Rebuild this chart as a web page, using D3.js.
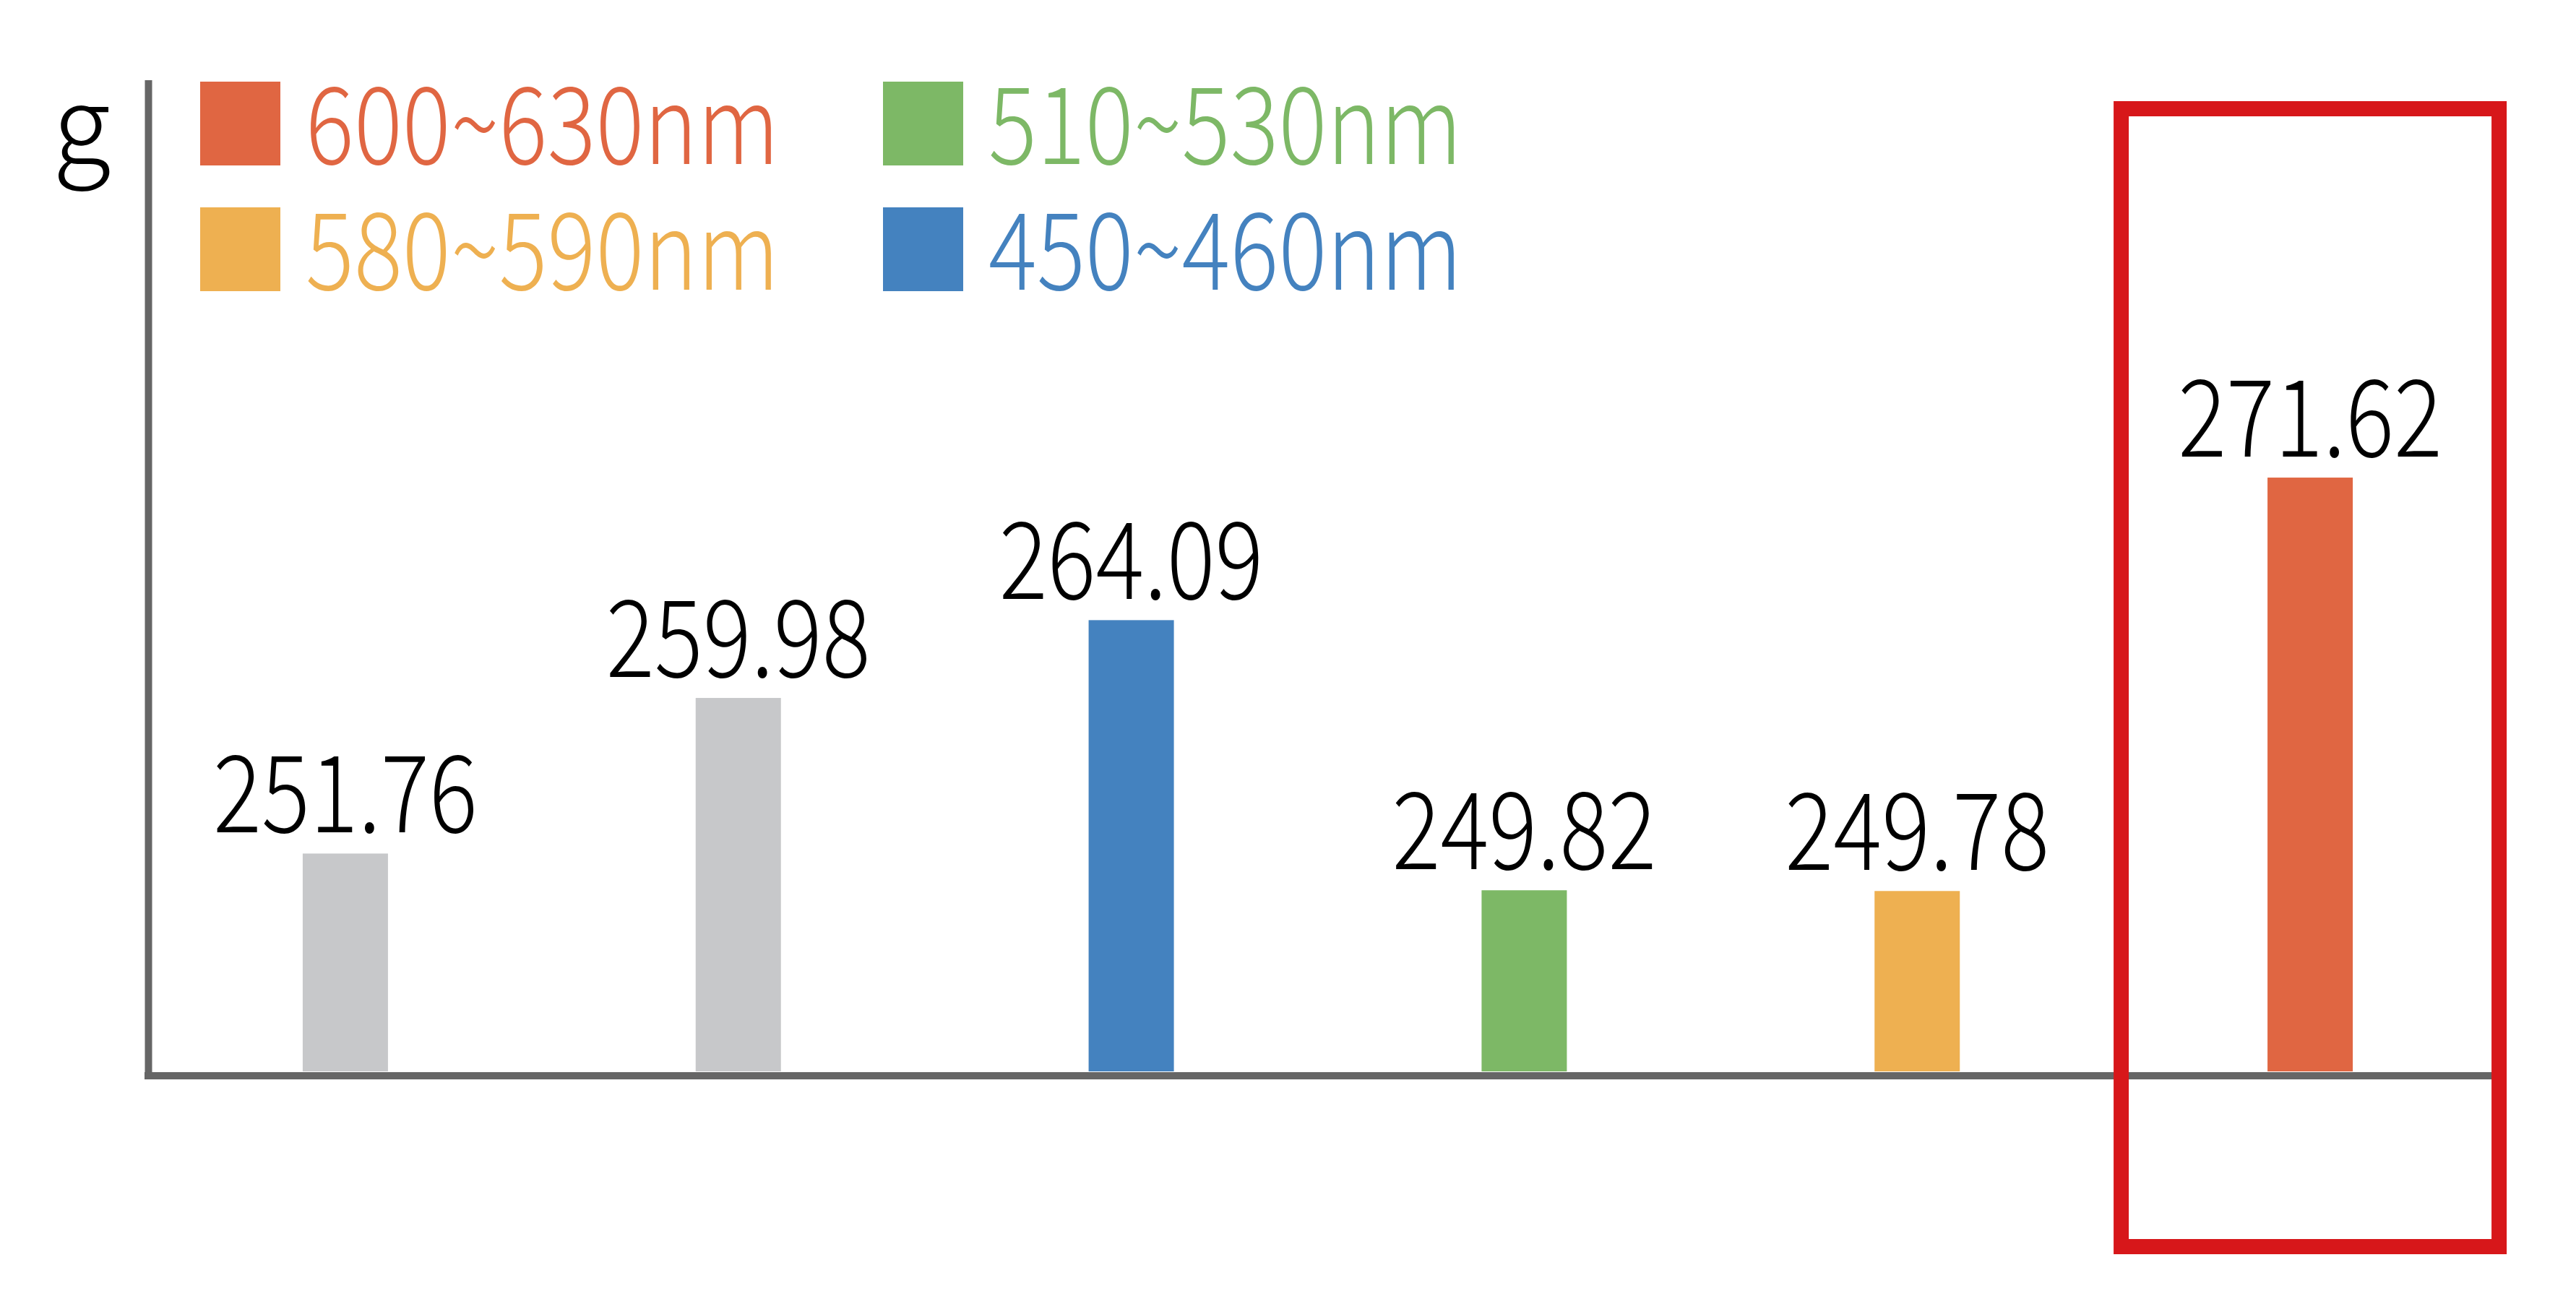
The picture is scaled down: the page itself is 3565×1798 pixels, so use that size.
<!DOCTYPE html>
<html>
<head>
<meta charset="utf-8">
<script src="https://cdn.jsdelivr.net/npm/d3@7"></script>
<style>
  body { margin: 0; background: #fff; }
  svg { display: block; }
  text { font-family: "Noto Sans CJK SC", "Noto Sans", sans-serif; font-weight: 300; }
</style>
</head>
<body>
<svg id="chart" width="3565" height="1798"></svg>
<script>
const categories = ["s1", "s2", "s3", "s4", "s5", "s6"];
const values = [251.76, 259.98, 264.09, 249.82, 249.78, 271.62];
const barColors = ["#c7c8ca", "#c7c8ca", "#4482bf", "#7db866", "#eeb051", "#e06642"];

const legendLabels = ["600~630nm", "510~530nm", "580~590nm", "450~460nm"];
const legendColors = ["#e06642", "#7db866", "#eeb051", "#4482bf"];

const unitLabel = "g";
const highlightIndex = 5;

const svg = d3.select("#chart");
const baseY = 1483;
const axisColor = "#666666";
const squeeze = 0.845; // the numbers in the picture are set narrower than the font

const x = d3
  .scaleBand()
  .domain(categories)
  .range([206, 3469])
  .paddingInner(0.783)
  .paddingOuter(0.783 / 2);

const y = d3.scaleLinear().domain([240.25, 280]).range([baseY, 441.5]);

// y axis line
svg
  .append("line")
  .attr("x1", 205.5)
  .attr("x2", 205.5)
  .attr("y1", 111)
  .attr("y2", 1494)
  .attr("stroke", axisColor)
  .attr("stroke-width", 10);

// x axis (domain only)
const xAxis = svg
  .append("g")
  .attr("transform", "translate(0,1489)")
  .call(d3.axisBottom(x).tickSize(0).tickSizeOuter(0).tickFormat(""));
xAxis.selectAll(".tick").remove();
xAxis
  .select(".domain")
  .attr("d", "M200,0H3450")
  .attr("stroke", axisColor)
  .attr("stroke-width", 10);

// bars
svg
  .selectAll("rect.bar")
  .data(values)
  .join("rect")
  .attr("class", "bar")
  .attr("x", (d, i) => x(categories[i]))
  .attr("width", x.bandwidth())
  .attr("y", (d) => y(d))
  .attr("height", (d) => baseY - y(d))
  .attr("fill", (d, i) => barColors[i]);

// value labels
svg
  .selectAll("text.val")
  .data(values)
  .join("text")
  .attr("class", "val")
  .attr(
    "transform",
    (d, i) =>
      `translate(${x(categories[i]) + x.bandwidth() / 2},${y(d) - 29}) scale(${squeeze},1)`,
  )
  .attr("text-anchor", "middle")
  .attr("font-size", 148)
  .attr("fill", "#000")
  .text((d) => d.toFixed(2));

// unit label
svg
  .append("text")
  .attr("x", 113)
  .attr("y", 227)
  .attr("text-anchor", "middle")
  .attr("font-size", 148)
  .attr("fill", "#000")
  .text(unitLabel);

// legend: 2 columns x 2 rows
const legend = svg
  .selectAll("g.legend")
  .data(legendLabels)
  .join("g")
  .attr("class", "legend")
  .attr(
    "transform",
    (d, i) => `translate(${i % 2 === 0 ? 277 : 1222},${i < 2 ? 113 : 287})`,
  );

legend
  .append("rect")
  .attr("width", 111)
  .attr("height", 116)
  .attr("fill", (d, i) => legendColors[i]);

legend
  .append("text")
  .attr("transform", `translate(146,114) scale(${squeeze},1)`)
  .attr("font-size", 148)
  .attr("fill", (d, i) => legendColors[i])
  .text((d) => d);

// highlight box round the last bar
const hx = x(categories[highlightIndex]) + x.bandwidth() / 2;
svg
  .append("rect")
  .attr("x", hx - 261.5)
  .attr("y", 150.5)
  .attr("width", 523)
  .attr("height", 1575)
  .attr("fill", "none")
  .attr("stroke", "#d7171a")
  .attr("stroke-width", 21);
</script>
</body>
</html>
